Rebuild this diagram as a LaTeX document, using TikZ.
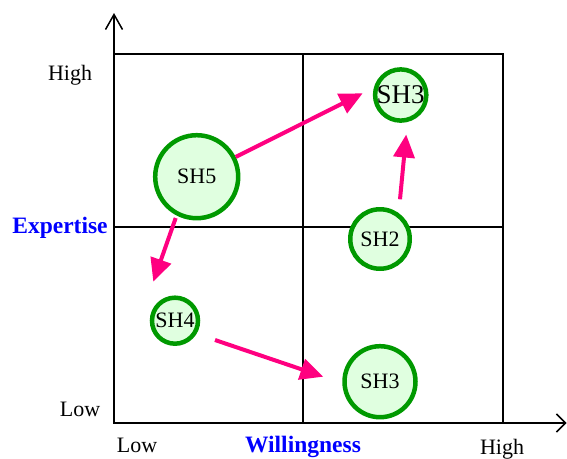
\documentclass[tikz,border=0pt]{standalone}
\usepackage{fontspec}
\setmainfont{Liberation Serif}
\usetikzlibrary{arrows.meta,calc}
\definecolor{movepink}{RGB}{255,0,128}
\definecolor{shgreen}{RGB}{0,153,0}
\definecolor{shfill}{RGB}{224,255,224}
\definecolor{axisblue}{RGB}{0,0,255}
\tikzset{
  sh/.style={circle, draw=shgreen, fill=shfill, line width=4.5pt, inner sep=0pt,
    font=\fontsize{22}{24}\selectfont},
  move/.style={draw=movepink, line width=4pt,
    -{Triangle[length=23pt,width=21pt]}},
  grid/.style={line width=1.2pt},
  yaxis/.style={line width=1.5pt, -{Straight Barb[length=15pt,width=17pt,line width=1.5pt]}},
  xaxis/.style={line width=1.5pt, -{Straight Barb[length=9pt,width=18pt,line width=1.5pt]}},
  tick/.style={anchor=base, font=\fontsize{22}{24}\selectfont},
  axlabel/.style={anchor=base, text=axisblue, font=\fontsize{23.5}{26}\bfseries\selectfont}
}
\begin{document}
\begin{tikzpicture}[x=1pt,y=-1pt]
\useasboundingbox (0,0) rectangle (567,458);

% frame and quadrant lines
\draw[grid] (114,54) rectangle (503,423);
\draw[grid] (303,54) -- (303,423);
\draw[grid] (114,227) -- (503,227);

% axes
\draw[yaxis] (114,423) -- (114,13);
\draw[xaxis] (114,423) -- (566.5,423);

% axis texts
\node[tick] at (70,80) {High};
\node[tick] at (80,416.5) {Low};
\node[axlabel] at (60,233) {Expertise};
\node[tick] at (137,452.5) {Low};
\node[axlabel] at (303,452) {Willingness};
\node[tick] at (502,454) {High};

% stakeholders
\node[sh, minimum size=83pt] (SH5) at (196.7,176.7) {SH5};
\node[sh, minimum size=50.5pt, font=\fontsize{27}{29}\selectfont] (SH3t) at (400.7,95) {SH3};
\node[sh, minimum size=59.5pt] (SH2) at (380,239) {SH2};
\node[sh, minimum size=46pt] (SH4) at (175,320.7) {SH4};
\node[sh, minimum size=71pt] (SH3b) at (380,381.7) {SH3};

% movements
\draw[move] ($(SH5)+(39,-19.7)$) -- ($(SH3t)+(-38,-1.7)$);
\draw[move] ($(SH2)+(20,-39.7)$) -- ($(SH3t)+(5.5,39.5)$);
\draw[move] ($(SH5)+(-21,41.3)$) -- ($(SH4)+(-21.7,-39)$);
\draw[move] ($(SH4)+(40,19.3)$) -- ($(SH3b)+(-56.7,-5)$);
\end{tikzpicture}
\end{document}
